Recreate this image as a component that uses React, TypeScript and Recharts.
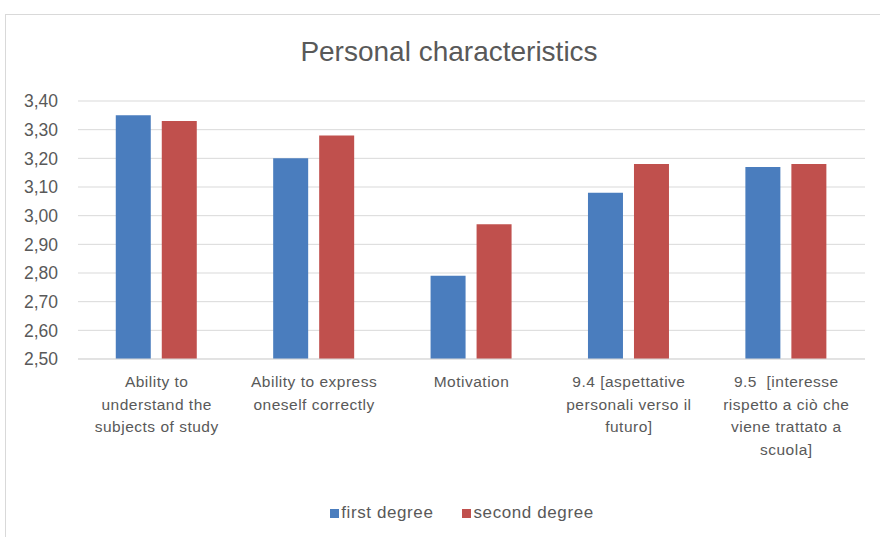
import React from "react";
import { BarChart, Bar, XAxis, YAxis, CartesianGrid, Legend } from "recharts";

const categories = [
  "Ability to understand the subjects of study",
  "Ability to express oneself correctly",
  "Motivation",
  "9.4 [aspettative personali verso il futuro]",
  "9.5  [interesse rispetto a ciò che viene trattato a scuola]",
];

// tick labels as they wrap in the original
const tickLines = [
  ["Ability to", "understand the", "subjects of study"],
  ["Ability to express", "oneself correctly"],
  ["Motivation"],
  ["9.4 [aspettative", "personali verso il", "futuro]"],
  ["9.5  [interesse", "rispetto a ciò che", "viene trattato a", "scuola]"],
];

const firstDegree = [3.35, 3.2, 2.79, 3.08, 3.17];
const secondDegree = [3.33, 3.28, 2.97, 3.18, 3.18];

const yTicks = [2.5, 2.6, 2.7, 2.8, 2.9, 3.0, 3.1, 3.2, 3.3, 3.4];

const data = categories.map((name, i) => ({
  name,
  first: firstDegree[i],
  second: secondDegree[i],
}));

const FONT = "'Liberation Sans', Arial, sans-serif";
const GRAY = "#595959";

function CategoryTick(props: any) {
  const { x, y, payload } = props;
  const lines: string[] = tickLines[payload.index] ?? [payload.value];
  return (
    <g transform={`translate(${x},${y})`}>
      {lines.map((line, i) => (
        <text
          key={i}
          x={0}
          y={20 + i * 22.5}
          textAnchor="middle"
          fill={GRAY}
          fontSize={15.5}
          fontFamily={FONT}
          letterSpacing={0.5}
          style={{ whiteSpace: "pre" }}
        >
          {line}
        </text>
      ))}
    </g>
  );
}

export default function App() {
  return (
    <div style={{ position: "absolute", left: 0, top: 0, width: 880, height: 537, background: "#fff" }}>
      <div
        style={{
          position: "absolute",
          left: 5,
          top: 14,
          width: 880,
          height: 530,
          borderTop: "1px solid #d9d9d9",
          borderLeft: "1px solid #d9d9d9",
        }}
      />
      <div
        style={{
          position: "absolute",
          left: 0,
          width: 898,
          top: 36,
          textAlign: "center",
          fontFamily: FONT,
          fontSize: 28,
          color: GRAY,
        }}
      >
        Personal characteristics
      </div>
      <div style={{ position: "absolute", left: 0, top: 0 }}>
        <BarChart
          width={880}
          height={537}
          data={data}
          margin={{ top: 101, right: 15, bottom: 14, left: 0 }}
          barCategoryGap="24%"
          barGap={11}
        >
          <CartesianGrid vertical={false} stroke="#d9d9d9" />
          <XAxis
            dataKey="name"
            axisLine={{ stroke: "#d9d9d9" }}
            tickLine={false}
            interval={0}
            height={144}
            tick={<CategoryTick />}
          />
          <YAxis
            domain={[2.5, 3.4]}
            ticks={yTicks}
            width={78}
            axisLine={false}
            tickLine={false}
            tickMargin={14}
            tick={{ fill: GRAY, fontSize: 17.5, fontFamily: FONT }}
            tickFormatter={(v: number) => v.toFixed(2).replace(".", ",")}
          />
          <Legend
            verticalAlign="bottom"
            iconType="square"
            iconSize={9}
            wrapperStyle={{ fontFamily: FONT, fontSize: 17, letterSpacing: 0.6, paddingLeft: 44 }}
            formatter={(value: string) => (
              <span style={{ color: GRAY, marginLeft: -2, marginRight: 19 }}>{value}</span>
            )}
          />
          <Bar dataKey="first" name="first degree" fill="#4a7dbe" isAnimationActive={false} />
          <Bar dataKey="second" name="second degree" fill="#c0504d" isAnimationActive={false} />
        </BarChart>
      </div>
    </div>
  );
}
